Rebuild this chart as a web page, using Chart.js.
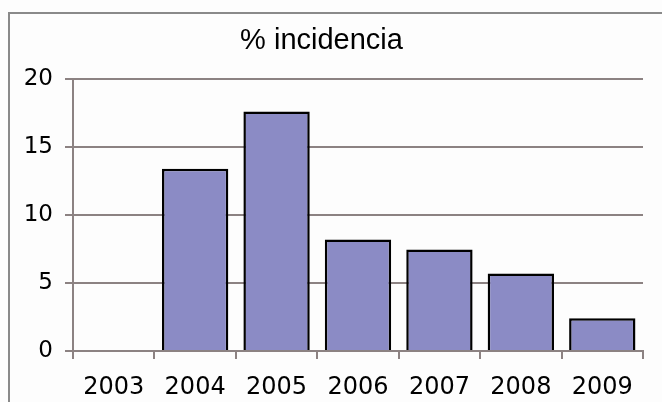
<!DOCTYPE html>
<html>
<head>
<meta charset="utf-8">
<script src="https://cdn.jsdelivr.net/npm/chart.js@4/dist/chart.umd.min.js"></script>
<style>
  body { margin: 0; background: #fdfdfd; }
  #wrap { position: relative; width: 662px; height: 402px; overflow: hidden; }
  #marco { position: absolute; left: 8px; top: 12px; width: 700px; height: 450px; border: 2px solid #8a8a8a; }
  canvas { position: absolute; left: 0; top: 0; }
</style>
</head>
<body>
<div id="wrap">
  <div id="marco"></div>
  <canvas id="incidenciaChart" width="662" height="402"></canvas>
</div>
<script>
// datos
const anios = ['2003', '2004', '2005', '2006', '2007', '2008', '2009'];
const incidencia = [0, 13.4, 17.6, 8.2, 7.45, 5.7, 2.4];
const ticksY = [0, 5, 10, 15, 20];

const colorGrid = '#8c8282';

const ctx = document.getElementById('incidenciaChart').getContext('2d');
const grafico = new Chart(ctx, {
    type: 'bar',
    data: {
        labels: anios,
        datasets: [{
            label: '% incidencia',
            data: incidencia,
            backgroundColor: '#8b8bc5',
            borderColor: '#000000',
            borderWidth: 2.5,
            borderSkipped: 'bottom',
            barPercentage: 0.84,
            categoryPercentage: 0.97
        }]
    },
    options: {
        responsive: false,
        animation: false,
        layout: { padding: { left: 0, right: 19, top: 0, bottom: 0 } },
        plugins: {
            legend: { display: false },
            tooltip: { enabled: false },
            title: {
                display: true,
                text: '% incidencia',
                color: '#000000',
                font: { family: 'Liberation Sans', size: 29, weight: 'normal' },
                padding: { top: 24, bottom: 20 }
            }
        },
        scales: {
            x: {
                grid: {
                    offset: true,
                    color: (c) => c.index === anios.length ? colorGrid : 'rgba(0,0,0,0)',
                    tickColor: colorGrid,
                    tickLength: 8,
                    lineWidth: 2
                },
                border: { display: true, color: colorGrid, width: 2 },
                ticks: {
                    color: '#000000',
                    font: { family: 'DejaVu Sans', size: 24 },
                    padding: 14,
                    maxRotation: 0
                },
                afterFit: (s) => { s.height = 51; }
            },
            y: {
                min: 0,
                max: 20,
                afterBuildTicks: (s) => { s.ticks = ticksY.map(v => ({ value: v })); },
                grid: { color: colorGrid, tickLength: 8, lineWidth: 2 },
                border: { display: true, color: colorGrid, width: 2 },
                ticks: {
                    color: '#000000',
                    font: { family: 'DejaVu Sans', size: 23 },
                    padding: 12
                },
                afterFit: (s) => { s.width = 73; }
            }
        }
    }
});
</script>
</body>
</html>
